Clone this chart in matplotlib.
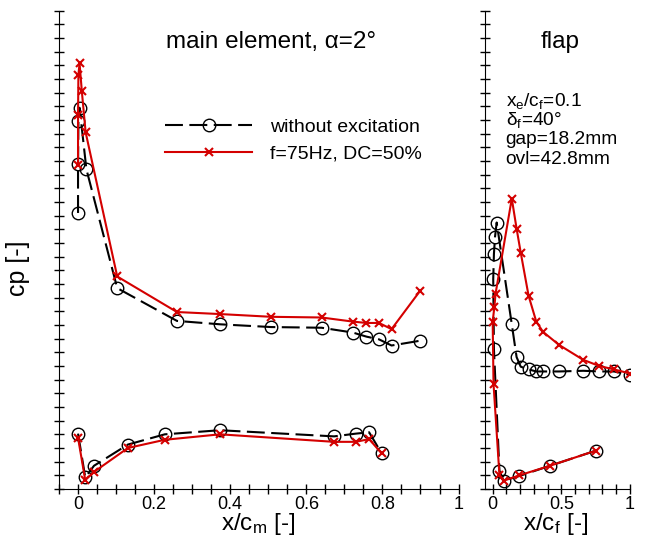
import numpy as np
import matplotlib.pyplot as plt
from matplotlib.ticker import MultipleLocator

plt.rcParams['font.family'] = ['Liberation Sans', 'DejaVu Sans']
plt.rcParams['mathtext.fontset'] = 'custom'
plt.rcParams['mathtext.rm'] = 'Liberation Sans'
plt.rcParams['mathtext.it'] = 'Liberation Sans:italic'

# main element, suction side (from leading edge)
xm_up_base = [0.0, 0.0, 0.001, 0.004, 0.022, 0.103, 0.26, 0.374, 0.508, 0.64, 0.722, 0.758, 0.791, 0.824, 0.899]
cp_up_base = [-3.04, -3.75, -4.38, -4.58, -3.68, -1.94, -1.46, -1.41, -1.37, -1.36, -1.29, -1.23, -1.19, -1.10, -1.17]
xm_up_act = [0.0, 0.0, 0.001, 0.004, 0.010, 0.020, 0.103, 0.26, 0.374, 0.508, 0.64, 0.722, 0.758, 0.791, 0.824, 0.899]
cp_up_act = [-3.74, -4.47, -5.06, -5.23, -4.82, -4.22, -2.11, -1.59, -1.56, -1.52, -1.51, -1.45, -1.43, -1.43, -1.34, -1.90]

# main element, pressure side
xm_lo = [0.0, 0.019, 0.042, 0.131, 0.228, 0.373, 0.673, 0.730, 0.765, 0.798]
cp_lo_base = [0.19, 0.83, 0.66, 0.35, 0.20, 0.14, 0.23, 0.19, 0.17, 0.48]
cp_lo_act = [0.25, 0.87, 0.75, 0.40, 0.28, 0.20, 0.31, 0.31, 0.27, 0.48]

# flap, pressure side TE -> LE -> suction side TE
xf_base = [0.75, 0.418, 0.195, 0.08, 0.05, 0.01, 0.005, 0.01, 0.018, 0.03, 0.14, 0.175, 0.205,
           0.262, 0.318, 0.367, 0.483, 0.66, 0.777, 0.884, 1.0]
cpf_base = [0.44, 0.66, 0.81, 0.88, 0.73, -1.05, -2.07, -2.44, -2.69, -2.90, -1.41, -0.93, -0.79,
            -0.75, -0.72, -0.72, -0.72, -0.73, -0.72, -0.72, -0.67]
xf_act = [0.75, 0.418, 0.195, 0.08, 0.05, 0.007, 0.001, 0.013, 0.022, 0.14, 0.175, 0.205,
          0.262, 0.318, 0.367, 0.483, 0.66, 0.777, 0.884, 1.0]
cpf_act = [0.44, 0.66, 0.80, 0.88, 0.79, -0.54, -1.45, -1.66, -1.86, -3.25, -2.81, -2.46,
           -1.83, -1.45, -1.30, -1.11, -0.89, -0.80, -0.75, -0.69]

red = '#d40000'
base_kw = dict(color='k', lw=1.5, dashes=(8.6, 3.1), marker='o', ms=9, mfc='none', mec='k', mew=1.0)
act_kw = dict(color=red, lw=1.5, marker='x', ms=6, mew=1.5)

fig = plt.figure(figsize=(6.47, 5.39), dpi=100)
ax1 = fig.add_axes([0.0912, 0.0928, 0.6175, 0.8873])
ax2 = fig.add_axes([0.7496, 0.0928, 0.2241, 0.8873])

ax1.plot(xm_up_base, cp_up_base, label='without excitation', **base_kw)
ax1.plot(xm_lo, cp_lo_base, **base_kw)
ax1.plot(xm_up_act, cp_up_act, label='f=75Hz, DC=50%', **act_kw)
ax1.plot(xm_lo, cp_lo_act, **act_kw)

ax2.plot(xf_base, cpf_base, **base_kw)
ax2.plot(xf_act, cpf_act, **act_kw)

for ax in (ax1, ax2):
    ax.set_ylim(1.0, -6.0)
    ax.yaxis.set_major_locator(MultipleLocator(0.2))
    ax.spines['top'].set_visible(False)
    ax.spines['right'].set_visible(False)
    ax.tick_params(which='both', direction='inout', length=7, width=1, labelsize=13,
                   labelleft=False, pad=1.5)

ax1.set_xlim(-0.05, 1.0)
ax1.xaxis.set_minor_locator(MultipleLocator(0.05))
ax1.set_xticks([0, 0.2, 0.4, 0.6, 0.8, 1.0], ['0', '0.2', '0.4', '0.6', '0.8', '1'])

ax2.set_xlim(-0.055, 1.0)
ax2.xaxis.set_minor_locator(MultipleLocator(0.1))
ax2.set_xticks([0, 0.5, 1.0], ['0', '0.5', '1'])

ax1.set_xlabel(r'x/c$_\mathrm{m}$ [-]', fontsize=17.5)
ax1.xaxis.set_label_coords(0.5, -0.047)
ax2.set_xlabel(r'x/c$_\mathrm{f}$ [-]', fontsize=17.5)
ax2.xaxis.set_label_coords(0.49, -0.047)
ax1.set_ylabel('cp [-]', fontsize=18)
ax1.yaxis.set_label_coords(-0.073, 0.462)

ax1.text(0.532, 0.935, 'main element, α=2°', transform=ax1.transAxes,
         ha='center', va='center', fontsize=17.5)
ax2.text(0.517, 0.935, 'flap', transform=ax2.transAxes,
         ha='center', va='center', fontsize=17.5)

notes = [r'x$_\mathrm{e}$/c$_\mathrm{f}$=0.1', r'δ$_\mathrm{f}$=40°', 'gap=18.2mm', 'ovl=42.8mm']
for i, s in enumerate(notes):
    ax2.text(0.143, 0.812 - i * 0.041, s, transform=ax2.transAxes,
             ha='left', va='center', fontsize=13.8)

ax1.legend(loc='upper left', bbox_to_anchor=(0.265, 0.775), frameon=False,
           fontsize=14, handlelength=4.5, handletextpad=0.9, labelspacing=0.45,
           borderpad=0, borderaxespad=0)

fig.savefig('out.png', dpi=100)
